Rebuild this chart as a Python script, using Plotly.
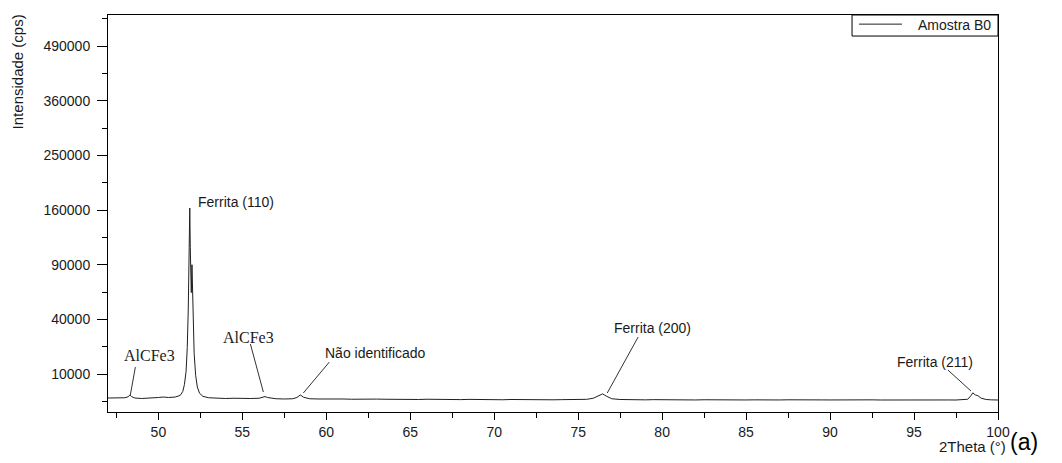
import numpy as np
import plotly.graph_objects as go

# ---- data (2Theta in degrees, intensity in cps) ----
two_theta = [
    47.0, 47.5, 48.0, 48.2, 48.3, 48.4, 48.6, 49.0, 49.5, 50.0, 50.3, 50.6,
    51.0, 51.3, 51.45, 51.55, 51.65, 51.72, 51.78, 51.83, 51.87, 51.90, 51.93,
    51.96, 52.0, 52.03, 52.07, 52.13, 52.22, 52.32, 52.45, 52.65, 53.0, 53.5,
    54.0, 54.5, 55.0, 55.5, 56.0, 56.2, 56.35, 56.5, 56.8, 57.0, 57.5, 58.0,
    58.25, 58.45, 58.65, 59.0, 59.5, 60.0, 60.5, 61.0, 61.5, 62.0, 62.5, 63.0,
    63.5, 64.0, 64.5, 65.0, 65.5, 66.0, 66.5, 67.0, 67.5, 68.0, 68.5, 69.0,
    69.5, 70.0, 70.5, 71.0, 71.5, 72.0, 72.5, 73.0, 73.5, 74.0, 74.5, 75.0,
    75.5, 75.9, 76.2, 76.45, 76.7, 77.0, 77.5, 78.0, 78.5, 79.0, 79.5, 80.0,
    80.5, 81.0, 81.5, 82.0, 82.5, 83.0, 83.5, 84.0, 84.5, 85.0, 85.5, 86.0,
    86.5, 87.0, 87.5, 88.0, 88.5, 89.0, 89.5, 90.0, 90.5, 91.0, 91.5, 92.0,
    92.5, 93.0, 93.5, 94.0, 94.5, 95.0, 95.5, 96.0, 96.5, 97.0, 97.5, 98.0,
    98.2, 98.4, 98.5, 98.65, 98.8, 99.0, 99.3, 99.6, 100.0,
]
intensity = [
    3150, 3100, 3200, 3400, 3800, 3450, 3150, 3050, 3100, 3250, 3350, 3250,
    3350, 3700, 4600, 6500, 11000, 22000, 48000, 100000, 163000, 110000, 70000,
    62000, 90000, 62000, 36000, 19000, 9500, 5800, 4200, 3500, 3200, 3100,
    3050, 3100, 3000, 3050, 3100, 3300, 3450, 3250, 3050, 3000, 2950, 3000,
    3250, 3800, 3300, 3000, 2950, 2980, 2920, 2950, 2900, 2960, 2880, 2930,
    2900, 2870, 2920, 2880, 2850, 2900, 2860, 2840, 2880, 2830, 2870, 2820,
    2860, 2830, 2800, 2850, 2810, 2840, 2800, 2830, 2790, 2820, 2800, 2830,
    2880, 3100, 3600, 4050, 3500, 3000, 2850, 2800, 2830, 2780, 2820, 2790,
    2810, 2770, 2800, 2760, 2800, 2770, 2790, 2750, 2790, 2760, 2780, 2740,
    2780, 2760, 2790, 2750, 2780, 2740, 2770, 2760, 2790, 2750, 2770, 2740,
    2780, 2750, 2770, 2740, 2760, 2780, 2750, 2770, 2740, 2760, 2750, 2780,
    2900, 3700, 4300, 3800, 3650, 3100, 2850, 2780, 2750,
]

series_name = "Amostra B0"
y_tick_values = [10000, 40000, 90000, 160000, 250000, 360000, 490000]
y_tick_labels = ["10000", "40000", "90000", "160000", "250000", "360000", "490000"]
x_tick_values = [50, 55, 60, 65, 70, 75, 80, 85, 90, 95, 100]

# peak labels: (text, label x, label y in cps, line start x, line start cps, line end x, line end cps, font)
peak_labels = [
    ("AlCFe3", 49.46, 17700, 48.63, 12700, 48.33, 3800, "serif"),
    ("AlCFe3", 55.36, 28100, 55.48, 24000, 56.25, 4500, "serif"),
    ("Não identificado", 59.82, 19150, 60.18, 14850, 58.63, 4250, "sans"),
    ("Ferrita (200)", 79.43, 33900, 78.57, 28100, 76.73, 4250, "sans"),
    ("Ferrita (211)", 96.25, 14850, 97.02, 11500, 98.39, 4750, "sans"),
    ("Ferrita (110)", 54.61, 171900, None, None, None, None, "sans"),
]

SANS = "Liberation Sans, Arial, sans-serif"
SERIF = "Liberation Serif, Times New Roman, serif"
INK = "#1a1a1a"

fig = go.Figure()
fig.add_trace(go.Scatter(
    x=two_theta, y=np.sqrt(np.array(intensity, dtype=float)),
    mode="lines", name=series_name, showlegend=False,
    line=dict(color="#202020", width=1),
))

for text, tx, ty, x0, y0, x1, y1, fnt in peak_labels:
    fig.add_annotation(
        x=tx, y=np.sqrt(ty), xref="x", yref="y", text=text, showarrow=False,
        xanchor="left" if text.startswith("Não") else "center", yanchor="middle",
        font=dict(family=SERIF if fnt == "serif" else SANS,
                  size=16 if fnt == "serif" else 14, color=INK),
    )
    if x0 is not None:
        fig.add_shape(type="line", xref="x", yref="y",
                      x0=x0, y0=np.sqrt(y0), x1=x1, y1=np.sqrt(y1),
                      line=dict(color="#333333", width=1))

# legend box (drawn in the top-right corner of the plot frame)
fig.add_shape(type="rect", xref="paper", yref="paper",
              x0=0.836, y0=0.947, x1=1.0, y1=1.0,
              line=dict(color="#000000", width=1), fillcolor="white")
fig.add_shape(type="line", xref="paper", yref="paper",
              x0=0.8438, y0=0.977, x1=0.8921, y1=0.977,
              line=dict(color="#202020", width=1))
fig.add_annotation(text=series_name, xref="paper", yref="paper",
                   x=0.9079, y=0.9736, showarrow=False,
                   xanchor="left", yanchor="middle",
                   font=dict(family=SANS, size=14, color=INK))

# axis titles and panel label
fig.add_annotation(text="Intensidade (cps)", xref="paper", yref="paper",
                   x=-0.102, y=0.856, textangle=-90, showarrow=False,
                   xanchor="center", yanchor="middle",
                   font=dict(family=SANS, size=15, color=INK))
fig.add_annotation(text="2Theta (°)", xref="paper", yref="paper",
                   x=1.0112, y=-0.088, showarrow=False,
                   xanchor="right", yanchor="middle",
                   font=dict(family=SANS, size=15, color=INK))
fig.add_annotation(text="(a)", xref="paper", yref="paper",
                   x=1.0115, y=-0.075, showarrow=False,
                   xanchor="left", yanchor="middle",
                   font=dict(family=SANS, size=23, color="#000000"))

fig.update_layout(
    width=1062, height=463,
    margin=dict(l=108, r=64, t=15, b=51),
    paper_bgcolor="white", plot_bgcolor="white",
    font=dict(family=SANS, size=14, color=INK),
    showlegend=False,
    xaxis=dict(
        range=[47, 100], tickmode="array", tickvals=x_tick_values,
        ticks="outside", ticklen=7, tickwidth=1, tickcolor="#000000",
        showline=True, linecolor="#000000", linewidth=1, mirror=True,
        showgrid=False, zeroline=False,
        minor=dict(tickmode="linear", tick0=47.5, dtick=5, ticks="outside",
                   ticklen=5, tickcolor="#000000", tickwidth=1, showgrid=False),
        tickfont=dict(family=SANS, size=14, color=INK),
    ),
    yaxis=dict(
        range=[30.5, 757], tickmode="array",
        tickvals=list(np.sqrt(np.array(y_tick_values, dtype=float))),
        ticktext=y_tick_labels,
        ticks="outside", ticklen=10, tickwidth=1, tickcolor="#000000",
        showline=True, linecolor="#000000", linewidth=1, mirror=True,
        showgrid=False, zeroline=False,
        minor=dict(tickmode="linear", tick0=50, dtick=100, ticks="outside",
                   ticklen=5, tickcolor="#000000", tickwidth=1, showgrid=False),
        tickfont=dict(family=SANS, size=14, color=INK),
        ticklabelstandoff=4,
    ),
)

fig.write_html("out.html")
